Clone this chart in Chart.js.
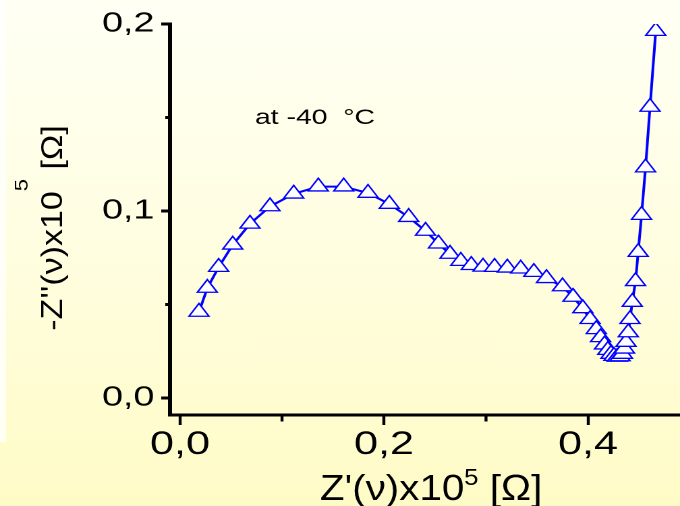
<!DOCTYPE html>
<html>
<head>
<meta charset="utf-8">
<script src="https://cdn.jsdelivr.net/npm/chart.js@4.4.1/dist/chart.umd.min.js"></script>
<style>
  html, body { margin: 0; padding: 0; width: 680px; height: 506px; overflow: hidden; }
  body { position: relative; background: linear-gradient(to bottom, #fffff4 0%, #fffee2 45%, #fffbc6 100%); }
  #edge { position: absolute; left: 0; top: 0; width: 6px; height: 442px; background: linear-gradient(to bottom, #fffffc, #fffff4); }
  /* the plot is laid out narrow and widened horizontally */
  #wrap { position: absolute; left: 0; top: 0; width: 504px; height: 506px; transform: scaleX(1.349206); transform-origin: 0 0; }
</style>
</head>
<body>
<div id="edge"></div>
<div id="wrap"><canvas id="c"></canvas></div>
<script>
// Impedance spectrum at -40 °C (Nyquist plot), values in units of 1e5 Ohm
const zReal = [0.0186, 0.0268, 0.0379, 0.0517, 0.0686, 0.0882, 0.1115, 0.1356, 0.1605, 0.1843,
               0.2052, 0.2242, 0.2407, 0.2534, 0.2647, 0.2753, 0.2856, 0.2971, 0.3084, 0.3209,
               0.3340, 0.3469, 0.3593, 0.3750, 0.3853, 0.3949, 0.4020, 0.4081, 0.4123, 0.4162,
               0.4194, 0.4225, 0.4255, 0.4287, 0.4314, 0.4338, 0.4358, 0.4373, 0.4395, 0.4412,
               0.4434, 0.4466, 0.4492, 0.4525, 0.4564, 0.4608, 0.4664];
const zImagNeg = [0.0460, 0.0588, 0.0700, 0.0819, 0.0931, 0.1024, 0.1092, 0.1130, 0.1130, 0.1096,
                  0.1037, 0.0967, 0.0893, 0.0825, 0.0770, 0.0732, 0.0710, 0.0701, 0.0700, 0.0696,
                  0.0691, 0.0673, 0.0640, 0.0596, 0.0540, 0.0479, 0.0421, 0.0367, 0.0324, 0.0285,
                  0.0256, 0.0235, 0.0224, 0.0219, 0.0222, 0.0235, 0.0263, 0.0299, 0.0350, 0.0421,
                  0.0513, 0.0624, 0.0780, 0.0978, 0.1232, 0.1556, 0.1962];

const xMajorTicks = [0, 0.2, 0.4];
const xTickLabels = ['0,0', '0,2', '0,4'];
const xMinorTicks = [0.1, 0.3];
const yMajorTicks = [0, 0.1, 0.2];
const yTickLabels = ['0,0', '0,1', '0,2'];
const yMinorTicks = [0.05, 0.15];

const xRange = [-0.0098, 0.4902];
const yRange = [-0.0091, 0.2];

const FONT = "'Liberation Sans', Arial, Helvetica, sans-serif";

// draws a run of text pieces (used for the superscripted axis titles)
function measureRuns(ctx, runs) {
  let w = 0;
  runs.forEach(r => { ctx.font = r.size + 'px ' + FONT; w += ctx.measureText(r.text).width; });
  return w;
}
function drawRuns(ctx, runs, x0) {
  let x = x0;
  runs.forEach(r => {
    ctx.font = r.size + 'px ' + FONT;
    ctx.fillText(r.text, x, -(r.rise || 0));
    x += ctx.measureText(r.text).width;
  });
}

const xTitleRuns = [{ text: "Z'(\u03BD)x10", size: 36 }, { text: '5', size: 23, rise: 15 }, { text: ' [\u03A9]', size: 36 }];
const yTitleRuns = [{ text: "-Z''(\u03BD)x10", size: 34 }, { text: '5', size: 22, rise: 40 }, { text: ' [\u03A9]', size: 34 }];

const decorations = {
  id: 'decorations',
  afterDraw(chart) {
    const { ctx, chartArea } = chart;
    const xs = chart.scales.x, ys = chart.scales.y;
    ctx.save();
    ctx.strokeStyle = '#000';
    // minor ticks
    ctx.lineWidth = 2.2;
    xMinorTicks.forEach(v => {
      const px = xs.getPixelForValue(v);
      ctx.beginPath(); ctx.moveTo(px, chartArea.bottom); ctx.lineTo(px, chartArea.bottom + 6.5); ctx.stroke();
    });
    ctx.lineWidth = 3;
    yMinorTicks.forEach(v => {
      const py = ys.getPixelForValue(v);
      ctx.beginPath(); ctx.moveTo(chartArea.left, py); ctx.lineTo(chartArea.left - 3.5, py); ctx.stroke();
    });

    ctx.fillStyle = '#000';
    ctx.textBaseline = 'alphabetic';
    ctx.textAlign = 'left';

    // x axis title
    ctx.save();
    ctx.translate(319.5, 500);
    ctx.scale(0.83, 1);
    drawRuns(ctx, xTitleRuns, -measureRuns(ctx, xTitleRuns) / 2);
    ctx.restore();

    // y axis title (rotated)
    ctx.save();
    ctx.translate(46, 228);
    ctx.scale(0.64, 1);
    ctx.rotate(-Math.PI / 2);
    drawRuns(ctx, yTitleRuns, -measureRuns(ctx, yTitleRuns) / 2);
    ctx.restore();

    // temperature note
    ctx.font = '21px ' + FONT;
    ctx.fillText('at -40  \u00B0C', 189, 124);
    ctx.restore();
  }
};

new Chart(document.getElementById('c'), {
  type: 'scatter',
  data: {
    datasets: [{
      data: zReal.map((v, i) => ({ x: v, y: zImagNeg[i] })),
      showLine: true,
      tension: 0,
      borderColor: '#0000ff',
      borderWidth: 2,
      pointStyle: 'triangle',
      pointRadius: 8.5,
      pointHoverRadius: 8.5,
      pointBackgroundColor: '#ffffff',
      pointBorderColor: '#0000ff',
      pointBorderWidth: 1.3
    }]
  },
  options: {
    responsive: true,
    maintainAspectRatio: false,
    animation: false,
    devicePixelRatio: 2,
    events: [],
    layout: { autoPadding: false, padding: { top: 24, left: 0, right: 0, bottom: 0 } },
    plugins: { legend: { display: false }, tooltip: { enabled: false } },
    scales: {
      x: {
        type: 'linear',
        min: xRange[0], max: xRange[1],
        afterBuildTicks: s => { s.ticks = xMajorTicks.map(v => ({ value: v })); },
        afterFit: s => { s.height = 91; },
        border: { display: true, color: '#000', width: 3 },
        grid: { display: true, drawOnChartArea: false, drawTicks: true, tickLength: 10, tickColor: '#000', tickWidth: 2.2 },
        ticks: {
          padding: 1, color: '#000', autoSkip: false, maxRotation: 0,
          font: { family: FONT, size: 32 },
          callback: (v, i) => xTickLabels[i]
        }
      },
      y: {
        type: 'linear',
        min: yRange[0], max: yRange[1],
        afterBuildTicks: s => { s.ticks = yMajorTicks.map(v => ({ value: v })); },
        afterFit: s => { s.width = 126; },
        border: { display: true, color: '#000', width: 3 },
        grid: { display: true, drawOnChartArea: false, drawTicks: true, tickLength: 6.5, tickColor: '#000', tickWidth: 3 },
        ticks: {
          padding: 5, color: '#000', autoSkip: false,
          font: { family: FONT, size: 28 },
          callback: (v, i) => yTickLabels[i]
        }
      }
    }
  },
  plugins: [decorations]
});
</script>
</body>
</html>
